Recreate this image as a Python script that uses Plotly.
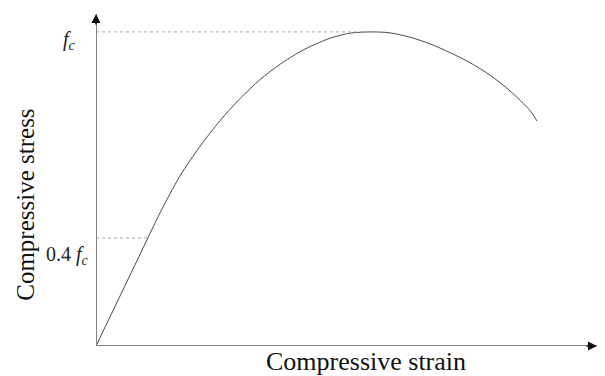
import plotly.graph_objects as go

# Normalised strain (eps/eps_peak) and stress (sigma/fc)
lin_strain = [0.0, 0.188]
lin_stress = [0.0, 0.344]
curve_strain = [0.188, 0.232, 0.304, 0.377, 0.449, 0.522, 0.594, 0.667, 0.739, 0.775,
                0.848, 0.920, 1.0, 1.065, 1.138, 1.210, 1.283, 1.355, 1.428, 1.500,
                1.572, 1.598]
curve_stress = [0.344, 0.424, 0.541, 0.636, 0.717, 0.788, 0.848, 0.897, 0.937, 0.953,
                0.980, 0.996, 1.0, 0.997, 0.983, 0.962, 0.934, 0.902, 0.862, 0.812,
                0.750, 0.716]
peak_strain = 1.0
peak_stress = 1.0
kink_strain = 0.188
kink_stress = 0.344
x_max = 1.815
y_max = 1.057

x_title = "Compressive strain"
y_title = "Compressive stress"
fc_label = "<i>f<sub>c</sub></i>"
kink_label = "0.4 <i>f<sub>c</sub></i>"

FONT = "Liberation Serif"
curve_color = "#4a4a4a"
axis_color = "#808080"

fig = go.Figure()
fig.add_trace(go.Scatter(x=lin_strain, y=lin_stress, mode="lines",
                         line=dict(color=curve_color, width=1), hoverinfo="skip"))
fig.add_trace(go.Scatter(x=curve_strain, y=curve_stress, mode="lines",
                         line=dict(color=curve_color, width=1, shape="spline", smoothing=0.8),
                         hoverinfo="skip"))

# dotted reference lines
fig.add_shape(type="line", x0=0, x1=peak_strain, y0=peak_stress, y1=peak_stress,
              line=dict(color="#aaaaaa", width=1, dash="dot"))
fig.add_shape(type="line", x0=0, x1=kink_strain, y0=kink_stress, y1=kink_stress,
              line=dict(color="#aaaaaa", width=1, dash="dot"))

# axes lines
fig.add_shape(type="line", x0=0, x1=x_max, y0=0, y1=0, line=dict(color=axis_color, width=2))
fig.add_shape(type="line", x0=0, x1=0, y0=0, y1=y_max, line=dict(color=axis_color, width=2))

# arrow heads
fig.add_annotation(x=x_max, y=0, ax=-12, ay=0, xref="x", yref="y", text="",
                   showarrow=True, arrowhead=2, arrowsize=1.2, arrowwidth=1.5, arrowcolor="#111111")
fig.add_annotation(x=0, y=y_max, ax=0, ay=12, xref="x", yref="y", text="",
                   showarrow=True, arrowhead=2, arrowsize=1.2, arrowwidth=1.5, arrowcolor="#111111")

# value labels
fig.add_annotation(x=0, y=peak_stress, xref="x", yref="y", text=fc_label, showarrow=False,
                   xanchor="right", yanchor="middle", xshift=-18, yshift=-9,
                   font=dict(family=FONT, size=20, color="#222222"))
fig.add_annotation(x=0, y=kink_stress, xref="x", yref="y", text=kink_label, showarrow=False,
                   xanchor="right", yanchor="middle", xshift=-5, yshift=-18,
                   font=dict(family=FONT, size=20, color="#222222"))

# axis titles
fig.add_annotation(x=0.539, y=-0.047, xref="paper", yref="paper", text=x_title, showarrow=False,
                   xanchor="center", yanchor="middle", font=dict(family=FONT, size=26, color="#111111"))
fig.add_annotation(x=-0.14, y=0.425, xref="paper", yref="paper", text=y_title, showarrow=False,
                   textangle=-90, xanchor="center", yanchor="middle",
                   font=dict(family=FONT, size=25, color="#111111"))

fig.update_layout(
    width=605, height=376,
    margin=dict(l=96, r=8, t=14, b=30),
    paper_bgcolor="white", plot_bgcolor="white",
    showlegend=False,
    xaxis=dict(range=[0, x_max], visible=False, fixedrange=True),
    yaxis=dict(range=[0, y_max], visible=False, fixedrange=True),
)

fig.write_html("out.html", config={"displayModeBar": False})
